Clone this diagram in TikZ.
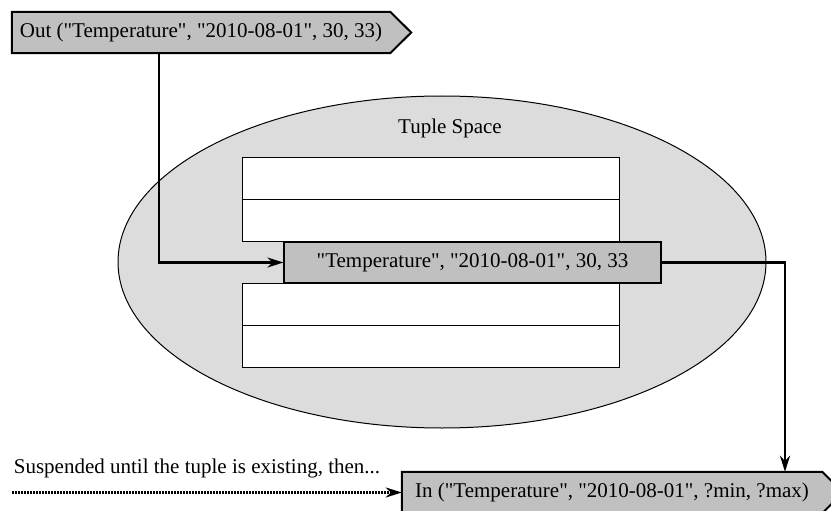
\documentclass[tikz,border=0pt]{standalone}
\usepackage{fontspec}
\setmainfont{Liberation Serif}
% same face without the TeX quote mapping, so " stays straight
\newfontfamily\labelfont{Liberation Serif}[Ligatures=ResetAll]
\usetikzlibrary{arrows.meta,backgrounds,shapes.geometric}

\definecolor{tagfill}{RGB}{192,192,192}
\definecolor{spacefill}{RGB}{220,220,220}

\tikzset{
  every node/.style={font=\labelfont\fontsize{21}{25}\selectfont},
  tagtext/.style={rectangle, inner sep=0pt, minimum height=41pt},
  tagshape/.style={fill=tagfill, draw=black, line width=2pt, line join=miter},
  slot/.style={rectangle, draw=black, fill=white, line width=1pt, inner sep=0pt,
               minimum width=377pt, minimum height=42pt},
  current/.style={rectangle, draw=black, fill=tagfill, line width=1.2pt, inner sep=0pt,
               minimum width=377pt, minimum height=41pt},
  flow/.style={line width=2.2pt, -{Stealth[length=16pt,width=10pt,inset=5pt]}},
  waitflow/.style={line width=2.2pt, dash pattern=on 1.5pt off 1.5pt,
               -{Stealth[length=16pt,width=10pt,inset=5pt]}}
}

\begin{document}
\begin{tikzpicture}[x=1pt,y=-1pt]
\useasboundingbox (0,0) rectangle (831,511);

% the tuple space
\node[ellipse, draw=black, fill=spacefill, line width=1pt, inner sep=0pt,
      minimum width=648pt, minimum height=332pt] (space) at (442,262) {};
\node (title) at (450,128) {Tuple Space};

% stored tuples
\node[slot] (s1) at (430.5,178.5) {};
\node[slot] (s2) at (430.5,220.5) {};
\node[slot] (s3) at (430.5,304.5) {};
\node[slot] (s4) at (430.5,346.5) {};
\node[current] (mid) at (472.5,262.5) {"Temperature", "2010-08-01", 30, 33};

% out operation
\node[tagtext, minimum width=378pt] (out) at (201,32.5) {Out ("Temperature", "2010-08-01", 30, 33)};
% in operation
\node[tagtext, minimum width=420pt] (in) at (612,492.5) {In ("Temperature", "2010-08-01", ?min, ?max)};

\begin{scope}[on background layer]
  \filldraw[tagshape] (out.north west) -- (out.north east) -- ([xshift=21pt]out.east)
     -- (out.south east) -- (out.south west) -- cycle;
  \filldraw[tagshape] (in.north west) -- (in.north east) -- ([xshift=21pt]in.east)
     -- (in.south east) -- (in.south west) -- cycle;
\end{scope}

% waiting note
\node (note) at (197,468) {Suspended until the tuple is existing, then...};
\coordinate (waitstart) at (12,492.5);

% connectors
\draw[flow] ([xshift=-42pt]out.south) |- (mid.west);
\draw[flow] (mid.east) -| ([xshift=173pt]in.north);
\draw[waitflow] (waitstart) -- (in.west);
\end{tikzpicture}
\end{document}
